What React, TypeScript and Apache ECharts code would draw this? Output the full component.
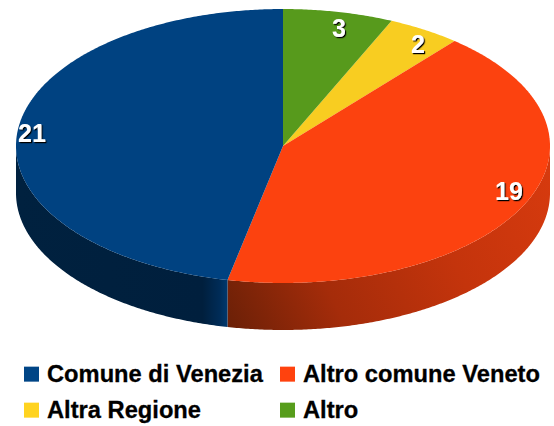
import React, { useEffect, useRef } from "react";
import * as echarts from "echarts";

const categories = ["Comune di Venezia", "Altro comune Veneto", "Altra Regione", "Altro"];
const values = [21, 19, 2, 3];
const colors = ["#004586", "#ff420e", "#ffd320", "#579d1c"];
const topColors = ["#004281", "#fc420f", "#f8cd21", "#579a1c"];

const CX = 283, CY = 146, RX = 267, RY = 137, DEPTH = 47;
const labelOffsets = [[14.5, 1], [-14, -15.5], [-6.5, 14.5], [0.5, 16.5]];
const legendPos = [[24, 362], [280, 362], [24, 398], [280, 398]];
const total = values.reduce((a, b) => a + b, 0);

function wallFill(i: number) {
  if (i === 0) {
    return new echarts.graphic.LinearGradient(16, 0, 228, 0, [
      { offset: 0, color: "#00213f" },
      { offset: 0.88, color: "#001f3d" },
      { offset: 0.96, color: "#002c57" },
      { offset: 1, color: "#003a70" },
    ], true);
  }
  return new echarts.graphic.LinearGradient(228, 330, 549, 170, [
    { offset: 0, color: "#6a2007" },
    { offset: 0.3, color: "#a52c0a" },
    { offset: 0.65, color: "#c4340c" },
    { offset: 1, color: "#d63a0e" },
  ], true);
}

// clockwise angle from the top; the slices run counter-clockwise from 12 o'clock
function pt(deg: number, dy = 0): number[] {
  const r = (deg * Math.PI) / 180;
  return [CX + RX * Math.sin(r), CY - RY * Math.cos(r) + dy];
}

function arc(from: number, to: number, dy = 0): number[][] {
  const n = Math.max(2, Math.ceil(Math.abs(to - from) * 2));
  const out: number[][] = [];
  for (let k = 0; k <= n; k++) out.push(pt(from + ((to - from) * k) / n, dy));
  return out;
}

function sliceRange(i: number) {
  const before = values.slice(0, i).reduce((a, b) => a + b, 0);
  const end = 360 - (before / total) * 360;
  const start = end - (values[i] / total) * 360;
  return [start, end];
}

function renderer(i: number) {
  return () => {
    const [start, end] = sliceRange(i);
    const children: any[] = [];
    const wallFrom = Math.max(start, 90);
    const wallTo = Math.min(end, 270);
    if (wallTo > wallFrom) {
      const top = arc(wallFrom, wallTo);
      const bottom = arc(wallFrom, wallTo, DEPTH).reverse();
      children.push({
        type: "polygon",
        shape: { points: top.concat(bottom) },
        style: { fill: wallFill(i) },
      });
    }
    children.push({
      type: "polygon",
      shape: { points: [[CX, CY], ...arc(start, end)] },
      style: { fill: topColors[i] },
    });
    return { type: "group", children };
  };
}

function labelRenderer(i: number) {
  return () => {
    const [start, end] = sliceRange(i);
    const p = pt((start + end) / 2);
    return {
      type: "text",
      z2: 10,
      style: {
        text: String(values[i]),
        x: p[0] + labelOffsets[i][0],
        y: p[1] + labelOffsets[i][1],
        fill: "#ffffff",
        font: 'bold 25px "Liberation Sans"',
        align: "center",
        verticalAlign: "middle",
        textShadowColor: "#000000",
        textShadowBlur: 0.5,
        textShadowOffsetX: 1.2,
        textShadowOffsetY: 1.2,
      },
    };
  };
}

export default function App() {
  const ref = useRef<HTMLDivElement>(null);
  useEffect(() => {
    const chart = echarts.init(ref.current!, null, { renderer: "svg" });
    const order = [2, 3, 1, 0];
    chart.setOption({
      animation: false,
      backgroundColor: "#ffffff",
      legend: categories.map((name, i) => ({
        data: [name],
        left: legendPos[i][0],
        top: legendPos[i][1],
        padding: 0,
        icon: "rect",
        itemWidth: 15,
        itemHeight: 15,
        itemGap: 0,
        selectedMode: false,
        textStyle: {
          color: "#000000",
          fontFamily: "Liberation Sans",
          fontWeight: "bold",
          fontSize: 23.7,
          padding: [0, 0, 0, 3],
          textBorderColor: "#000000",
          textBorderWidth: 0.3,
        },
      })),
      series: [
        ...order.map((i) => ({
          type: "custom",
          name: categories[i],
          coordinateSystem: "none",
          data: [values[i]],
          itemStyle: { color: colors[i] },
          renderItem: renderer(i),
          silent: true,
          z: 2,
        })),
        ...order.map((i) => ({
          type: "custom",
          name: categories[i] + " label",
          coordinateSystem: "none",
          data: [values[i]],
          renderItem: labelRenderer(i),
          silent: true,
          z: 5,
        })),
      ],
    });
    return () => chart.dispose();
  }, []);
  return <div ref={ref} style={{ position: "fixed", left: 0, top: 0, width: 554, height: 426 }} />;
}
